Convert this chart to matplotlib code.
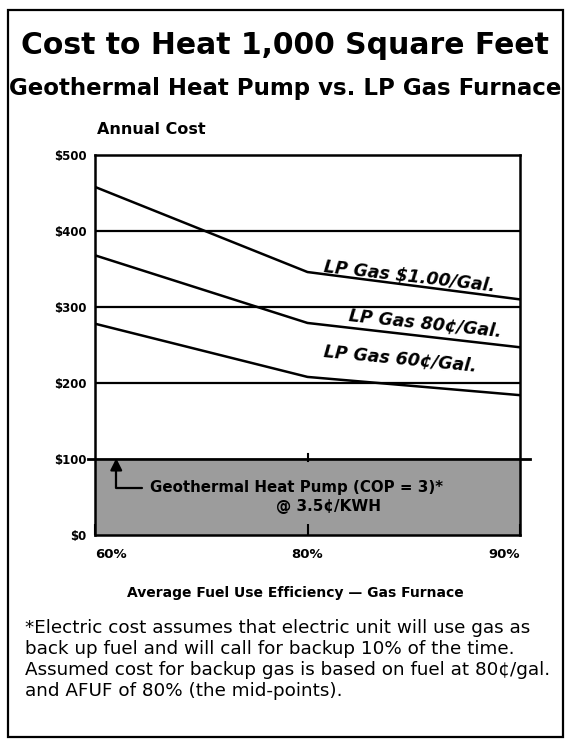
import matplotlib
matplotlib.use("Agg")
import matplotlib.pyplot as plt
from matplotlib.patches import Rectangle

plt.rcParams["font.family"] = ["DejaVu Sans"]

# efficiency categories (equally spaced on the chart)
efficiency = ["60%", "80%", "90%"]
lp_100 = [458, 346, 310]
lp_80 = [368, 279, 247]
lp_60 = [278, 208, 184]
geothermal = [98, 98, 98]
line_labels = ["LP Gas $1.00/Gal.", "LP Gas 80¢/Gal.", "LP Gas 60¢/Gal."]
yticks = [0, 100, 200, 300, 400, 500]
ytick_labels = ["$0", "$100", "$200", "$300", "$400", "$500"]

footnote = ("*Electric cost assumes that electric unit will use gas as\n"
            "back up fuel and will call for backup 10% of the time.\n"
            "Assumed cost for backup gas is based on fuel at 80¢/gal.\n"
            "and AFUF of 80% (the mid-points).")

fig = plt.figure(figsize=(5.7, 7.41), dpi=100)
fig.patches.append(Rectangle((8 / 570, 1 - 737 / 741), 555 / 570, 727 / 741,
                             transform=fig.transFigure, fill=False,
                             lw=1.6, ec="black"))

fig.text(0.5, 1 - 46 / 741, "Cost to Heat 1,000 Square Feet",
         ha="center", va="center", fontsize=21.5, fontweight="bold")
fig.text(0.5, 1 - 88 / 741, "Geothermal Heat Pump vs. LP Gas Furnace",
         ha="center", va="center", fontsize=16.5, fontweight="bold")
fig.text(97 / 570, 1 - 130 / 741, "Annual Cost", ha="left", va="center",
         fontsize=11.5, fontweight="bold")

ax = fig.add_axes([95 / 570, 1 - 535 / 741, 425 / 570, 380 / 741])
x = list(range(len(efficiency)))

ax.fill_between(x, 0, geothermal, color="#9c9c9c", lw=0)
for v in [200, 300, 400]:
    ax.axhline(v, color="black", lw=1.6)
ax.axhline(100, xmin=-0.017, xmax=1.024, color="black", lw=2, clip_on=False)

for series in (lp_100, lp_80, lp_60):
    ax.plot(x, series, color="black", lw=1.8)

# labels sit above the 80%-90% segment of each line
label_pos = [(1.07, 342, -6.5), (1.19, 277, -6), (1.07, 230, -5.5)]
for (lx, ly, rot), lab in zip(label_pos, line_labels):
    ax.text(lx, ly, lab, rotation=rot, rotation_mode="anchor", ha="left",
            va="bottom", fontsize=12.5, fontweight="bold", style="italic")

ax.plot([1, 1], [geothermal[1], geothermal[1] + 9], color="black", lw=1.5)

ax.annotate("", xy=(0.10, 101), xytext=(0.22, 62),
            arrowprops=dict(arrowstyle="-|>,head_length=0.7,head_width=0.35",
                            connectionstyle="angle,angleA=0,angleB=90,rad=0",
                            color="black", lw=1.6, shrinkA=0, shrinkB=0))
ax.text(0.26, 62, "Geothermal Heat Pump (COP = 3)*", ha="left", va="center",
        fontsize=10.8, fontweight="bold")
ax.text(1.10, 37, "@ 3.5¢/KWH", ha="center", va="center",
        fontsize=11, fontweight="bold")

ax.set_xlim(0, 2)
ax.set_ylim(0, 500)
ax.set_yticks(yticks)
ax.set_yticklabels(ytick_labels, fontsize=8.5, fontweight="bold")
ax.set_xticks(x)
ax.set_xticklabels(efficiency, fontsize=9.5, fontweight="bold")
xl = ax.get_xticklabels()
xl[0].set_ha("left")
xl[2].set_ha("right")
ax.tick_params(axis="y", length=0, pad=6)
ax.tick_params(axis="x", direction="in", length=8, width=1.5, pad=9)
for s in ax.spines.values():
    s.set_linewidth(1.8)

fig.text(295 / 570, 1 - 593 / 741,
         "Average Fuel Use Efficiency — Gas Furnace",
         ha="center", va="center", fontsize=10, fontweight="bold")

fig.text(25 / 570, 1 - 619 / 741, footnote, ha="left", va="top",
         fontsize=13.2, linespacing=1.21)

fig.savefig("out.png", dpi=100)
